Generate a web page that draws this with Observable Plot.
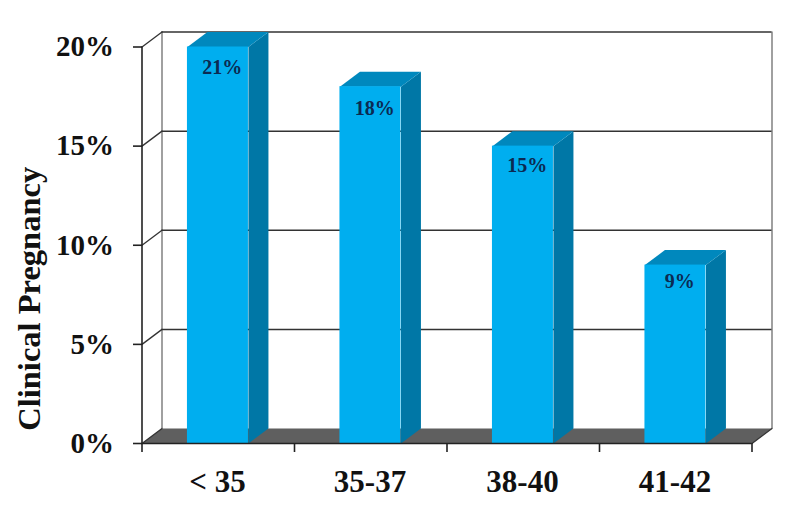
<!DOCTYPE html>
<html>
<head>
<meta charset="utf-8">
<script src="https://cdn.jsdelivr.net/npm/d3@7"></script>
<script src="https://cdn.jsdelivr.net/npm/@observablehq/plot@0.6"></script>
<style>
html,body{margin:0;padding:0;background:#fff;}
svg{display:block;}
</style>
</head>
<body>
<div id="chart"></div>
<script>
const categories = ["< 35", "35-37", "38-40", "41-42"];
const drawnValues = [20, 18, 15, 9.0];
const valueLabels = ["21%", "18%", "15%", "9%"];
const labelLevels = [18.94, 16.9, 14.0, 8.15];
const yTicks = [0, 5, 10, 15, 20];
const gridTicks = [5, 10, 15, 20];
const categoryEdges = [0, 1, 2, 3, 4];
const yTitle = "Clinical Pregnancy";

// 3-D projection of the depth axis, in data units (20px, 15px on the scales below)
const depthX = 20 / 152.5;
const depthY = 15 / 19.825;
const barPad = 0.298;
const barWidth = 0.4;
const FONT = "'Liberation Serif', 'Times New Roman', serif";

const bars = categories.map((c, i) => ({
  c, i, v: drawnValues[i], label: valueLabels[i], level: labelLevels[i],
  x1: i + barPad, x2: i + barPad + barWidth
}));
const sidePts = bars.flatMap(b => [
  {z: b.c, x: b.x2, y: 0},
  {z: b.c, x: b.x2 + depthX, y: depthY},
  {z: b.c, x: b.x2 + depthX, y: b.v + depthY},
  {z: b.c, x: b.x2, y: b.v}
]);
const topPts = bars.flatMap(b => [
  {z: b.c, x: b.x1, y: b.v},
  {z: b.c, x: b.x1 + depthX, y: b.v + depthY},
  {z: b.c, x: b.x2 + depthX, y: b.v + depthY},
  {z: b.c, x: b.x2, y: b.v}
]);
const floorPts = [
  {x: 0, y: 0},
  {x: depthX, y: depthY},
  {x: 4 + depthX, y: depthY},
  {x: 4, y: 0}
];
const floorEdge = [{x: 4, y: 0}, {x: 4 + depthX, y: depthY}];
const connectors = yTicks.flatMap(t => [
  {z: t, x: 0, y: t},
  {z: t, x: depthX, y: t + depthY}
]);

const plot = Plot.plot({
  width: 800,
  height: 508,
  marginLeft: 142,
  marginRight: 48,
  marginTop: 47,
  marginBottom: 65,
  x: {type: "linear", domain: [0, 4], range: [141.5, 751.5]},
  y: {type: "linear", domain: [0, 20], range: [443, 46.5]},
  style: {fontFamily: FONT, background: "#fff", color: "#111"},
  marks: [
    // back wall
    Plot.ruleX([depthX], {y1: depthY, y2: 20 + depthY, stroke: "#808080", strokeWidth: 1.5, strokeOpacity: 1}),
    Plot.ruleX([4 + depthX], {y1: depthY, y2: 20 + depthY, stroke: "#808080", strokeWidth: 1.5, strokeOpacity: 1}),
    Plot.ruleY(gridTicks, {y: d => d + depthY, x1: depthX, x2: 4 + depthX, stroke: "#333", strokeWidth: 1.5, strokeOpacity: 1}),
    // floor
    Plot.line(floorPts, {x: "x", y: "y", fill: "#5f5f5f", stroke: "none"}),
    // side wall connectors
    Plot.line(connectors, {x: "x", y: "y", z: "z", stroke: "#333", strokeWidth: 1.3}),
    Plot.line(floorEdge, {x: "x", y: "y", stroke: "#333", strokeWidth: 1.3}),
    // bars
    Plot.line(sidePts, {x: "x", y: "y", z: "z", fill: "#0077a6", stroke: "none"}),
    Plot.line(topPts, {x: "x", y: "y", z: "z", fill: "#0088bd", stroke: "none"}),
    Plot.rectY(bars, {x1: "x1", x2: "x2", y1: 0, y2: "v", fill: "#00aeef", inset: 0}),
    Plot.text(bars, {
      x: d => (d.x1 + d.x2) / 2 + 0.028, y: "level", text: "label",
      fontSize: 20, fontWeight: "bold", fill: "#0b2a52"
    }),
    // front axes
    Plot.ruleX([0], {y1: 0, y2: 20, stroke: "#222", strokeWidth: 1.6, strokeOpacity: 1}),
    Plot.ruleY([0], {x1: 0, x2: 4, stroke: "#222", strokeWidth: 1.6, strokeOpacity: 1}),
    Plot.axisY({
      ticks: yTicks, tickSize: 9, tickPadding: 19.5, label: null,
      tickFormat: d => d + "%", fontSize: 29, fontWeight: "bold",
      stroke: "#222", strokeWidth: 1.6, strokeOpacity: 1
    }),
    Plot.axisX({
      ticks: categoryEdges, tickSize: 9, tickFormat: () => "", label: null,
      stroke: "#222", strokeWidth: 1.6, strokeOpacity: 1
    }),
    Plot.axisX({
      ticks: categoryEdges.slice(0, 4).map(d => d + 0.495), tickSize: 0, tickPadding: 26, label: null,
      tickFormat: d => categories[Math.floor(d)], fontSize: 31, fontWeight: "bold"
    }),
    // y title
    Plot.text([yTitle], {
      x: () => -0.735, y: () => 7.3, text: d => d, rotate: -90,
      fontSize: 32.5, fontWeight: "bold", fill: "#111", clip: false
    })
  ]
});
document.getElementById("chart").appendChild(plot);
</script>
</body>
</html>
